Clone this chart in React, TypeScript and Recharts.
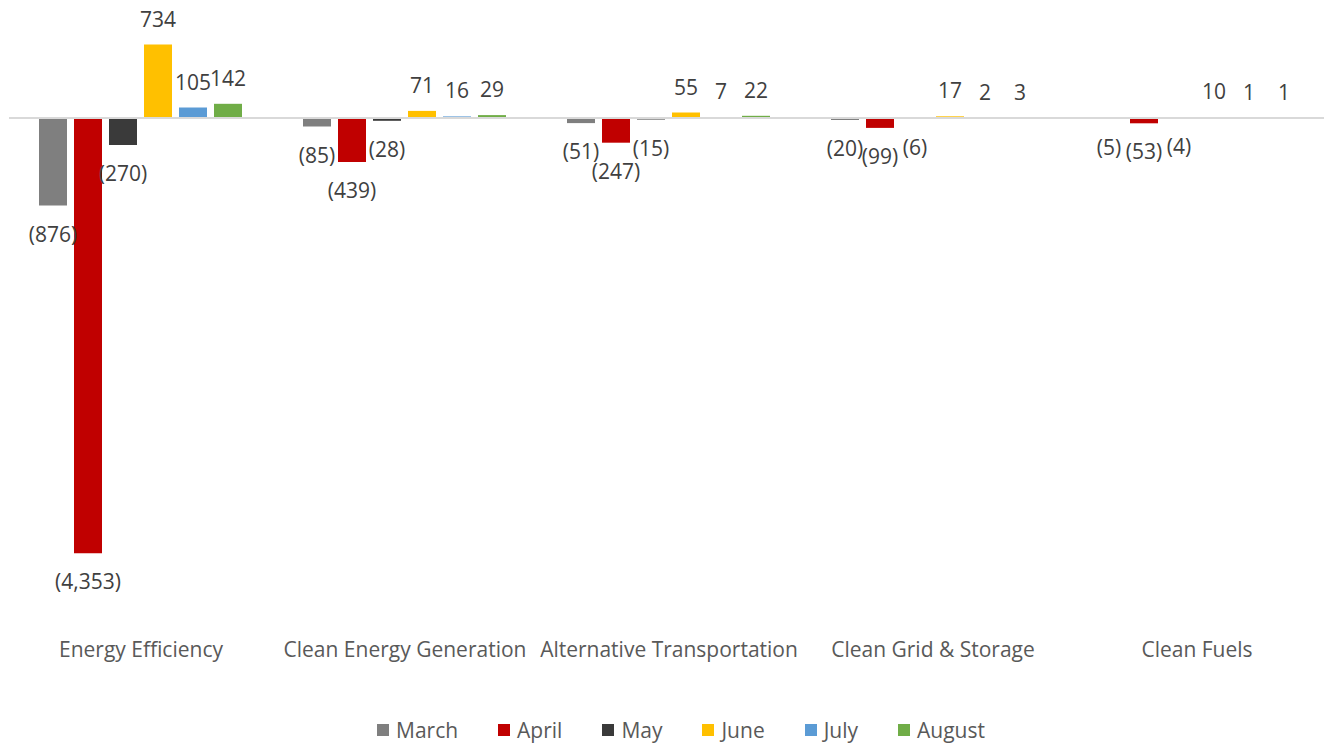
import React from 'react';
import { BarChart, Bar, XAxis, YAxis, ReferenceLine, LabelList, Legend } from 'recharts';

// Monthly change by sector (negative = decline)
const categories = [
  'Energy Efficiency',
  'Clean Energy Generation',
  'Alternative Transportation',
  'Clean Grid & Storage',
  'Clean Fuels',
];
const march = [-876, -85, -51, -20, -5];
const april = [-4353, -439, -247, -99, -53];
const may = [-270, -28, -15, -6, -4];
const june = [734, 71, 55, 17, 10];
const july = [105, 16, 7, 2, 1];
const august = [142, 29, 22, 3, 1];

const seriesNames = ['March', 'April', 'May', 'June', 'July', 'August'];
const seriesColors = ['#7f7f7f', '#c00000', '#3a3a3a', '#ffc000', '#5b9bd5', '#70ad47'];
const seriesValues = [march, april, may, june, july, august];

const data = categories.map((name, i) => {
  const row: Record<string, string | number> = { name };
  seriesNames.forEach((s, k) => {
    row[s] = seriesValues[k][i];
  });
  return row;
});

const FONT = '"Open Sans", sans-serif';

const fmt = (v: number) => {
  const s = Math.abs(v).toLocaleString('en-US');
  return v < 0 ? `(${s})` : s;
};

const ValueLabel = (props: any) => {
  const { x, y, width, height, value } = props;
  const v = Number(value);
  const top = Math.min(y, y + height);
  const bottom = Math.max(y, y + height);
  const cy = v < 0 ? bottom + 28 : top - 26;
  return (
    <text
      x={x + width / 2}
      y={cy}
      textAnchor="middle"
      dominantBaseline="central"
      fontFamily={FONT}
      fontSize={21}
      fill="#404040"
    >
      {fmt(v)}
    </text>
  );
};

const CategoryTick = (props: any) => {
  const { x, y, payload } = props;
  return (
    <text
      x={x}
      y={y + 31}
      textAnchor="middle"
      dominantBaseline="central"
      fontFamily={FONT}
      fontSize={21}
      fill="#595959"
    >
      {payload.value}
    </text>
  );
};

const LegendContent = () => (
  <div
    style={{
      display: 'flex',
      justifyContent: 'center',
      alignItems: 'center',
      height: 24,
      paddingLeft: 22,
      fontFamily: FONT,
      fontSize: 21,
      color: '#595959',
    }}
  >
    {seriesNames.map((s, k) => (
      <div key={s} style={{ display: 'flex', alignItems: 'center', marginRight: k < seriesNames.length - 1 ? 40 : 0 }}>
        <span style={{ width: 12, height: 12, background: seriesColors[k], marginRight: 7, display: 'inline-block' }} />
        <span>{s}</span>
      </div>
    ))}
  </div>
);

export default function App() {
  return (
    <div style={{ marginTop: -8 }}>
      <BarChart
        width={1324}
        height={745}
        data={data}
        margin={{ top: 18, right: 3, bottom: 73, left: 1 }}
        barCategoryGap={30}
        barGap={7}
      >
        <XAxis
          dataKey="name"
          axisLine={false}
          tickLine={false}
          tickSize={0}
          tickMargin={0}
          tick={<CategoryTick />}
          interval={0}
          height={30}
        />
        <YAxis hide domain={[-5000, 1000]} ticks={[-5000, 1000]} allowDataOverflow />
        <ReferenceLine y={0} stroke="#d9d9d9" strokeWidth={2} />
        {seriesNames.map((s, k) => (
          <Bar key={s} dataKey={s} fill={seriesColors[k]} isAnimationActive={false}>
            <LabelList dataKey={s} content={<ValueLabel />} />
          </Bar>
        ))}
        <Legend
          content={<LegendContent />}
          verticalAlign="bottom"
          wrapperStyle={{ top: 718, bottom: 'auto', left: 0, width: 1324 }}
        />
      </BarChart>
    </div>
  );
}
